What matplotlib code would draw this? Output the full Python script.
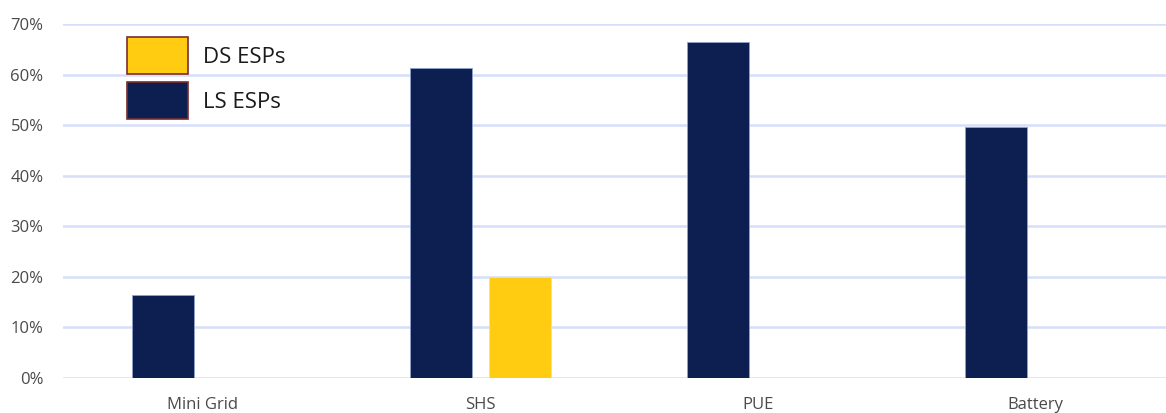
import matplotlib
matplotlib.use("Agg")
import matplotlib.pyplot as plt
import numpy as np
from matplotlib.patches import Patch
from matplotlib.ticker import PercentFormatter

categories = ["Mini Grid", "SHS", "PUE", "Battery"]
ls_esps = [0.165, 0.613, 0.665, 0.497]
ds_esps = [0.0, 0.199, 0.0, 0.0]
series_names = ["DS ESPs", "LS ESPs"]
y_ticks = [0.0, 0.1, 0.2, 0.3, 0.4, 0.5, 0.6, 0.7]

navy = "#0D1F50"
yellow = "#FFCC11"
grid_c = "#D6DEF8"
text_c = "#4a4a4a"

plt.rcParams['font.family'] = ['Open Sans', 'DejaVu Sans']

fig = plt.figure(figsize=(11.66, 4.13), dpi=100)
ax = fig.add_axes([63/1166, 1 - 378/413, 1 - 63/1166, (378 - 24)/413])

x = np.arange(len(categories))
w = 0.223
off = 0.142
ax.bar(x - off, ls_esps, width=w, color=navy, edgecolor="#8FA2CF", linewidth=0.6, zorder=3)
ds_vals = np.array(ds_esps)
mask = ds_vals > 0
ax.bar(x[mask] + off, ds_vals[mask], width=w, color=yellow, edgecolor="#FFE27A", linewidth=0.6, zorder=3)

ax.set_xlim(-0.502, (1166 - 202.5) / 277.7)
ax.set_ylim(0, 0.70)
ax.set_yticks(y_ticks)
ax.yaxis.set_major_formatter(PercentFormatter(1.0, decimals=0))
ax.set_xticks(x)
ax.set_xticklabels(categories)
ax.grid(axis='y', color=grid_c, linewidth=1.8, zorder=0)
ax.set_axisbelow(True)
for s in ax.spines.values():
    s.set_visible(False)
ax.tick_params(axis='both', length=0, colors=text_c, labelsize=12)
ax.tick_params(axis='y', pad=14)
ax.tick_params(axis='x', pad=14)

handles = [Patch(facecolor=yellow, edgecolor="#7A2E2E", linewidth=1.2),
           Patch(facecolor=navy, edgecolor="#7A2E2E", linewidth=1.2)]
fig.legend(handles, series_names, loc='upper left',
           bbox_to_anchor=(127/1166, 1 - 37/413), bbox_transform=fig.transFigure,
           frameon=False, fontsize=16, borderpad=0, borderaxespad=0,
           handlelength=2.75, handleheight=2.2, handletextpad=0.65, labelspacing=0.35,
           labelcolor="#1a1a1a")

fig.savefig("out.png", dpi=100)
